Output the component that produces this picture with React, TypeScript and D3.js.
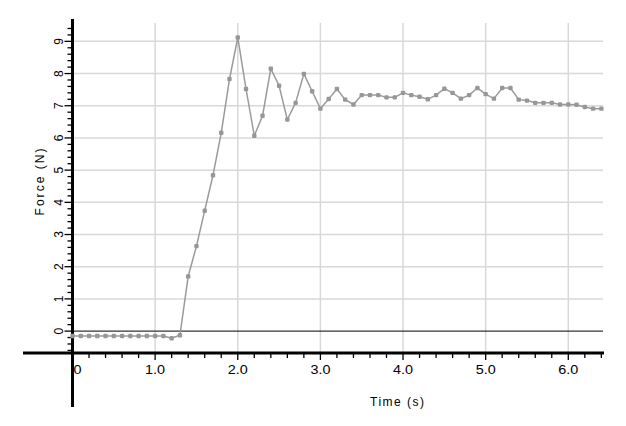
import { useEffect, useRef } from "react";
import * as d3 from "d3";

// sample times (s)
const times = [
  0.0, 0.1, 0.2, 0.3, 0.4, 0.5, 0.6, 0.7, 0.8, 0.9, 1.0, 1.1, 1.2, 1.3, 1.4,
  1.5, 1.6, 1.7, 1.8, 1.9, 2.0, 2.1, 2.2, 2.3, 2.4, 2.5, 2.6, 2.7, 2.8, 2.9,
  3.0, 3.1, 3.2, 3.3, 3.4, 3.5, 3.6, 3.7, 3.8, 3.9, 4.0, 4.1, 4.2, 4.3, 4.4,
  4.5, 4.6, 4.7, 4.8, 4.9, 5.0, 5.1, 5.2, 5.3, 5.4, 5.5, 5.6, 5.7, 5.8, 5.9,
  6.0, 6.1, 6.2, 6.3, 6.4,
];

// measured force (N)
const forces = [
  -0.15, -0.15, -0.15, -0.15, -0.15, -0.15, -0.15, -0.15, -0.15, -0.15, -0.15,
  -0.15, -0.22, -0.13, 1.7, 2.64, 3.74, 4.84, 6.16, 7.83, 9.12, 7.52, 6.07,
  6.69, 8.15, 7.62, 6.57, 7.09, 7.99, 7.45, 6.91, 7.21, 7.52, 7.19, 7.04, 7.33,
  7.33, 7.33, 7.26, 7.26, 7.4, 7.33, 7.28, 7.2, 7.33, 7.53, 7.4, 7.22, 7.33,
  7.55, 7.36, 7.22, 7.55, 7.55, 7.19, 7.16, 7.09, 7.09, 7.09, 7.04, 7.04, 7.03,
  6.96, 6.91, 6.91,
];

const xTickValues = [0, 1, 2, 3, 4, 5, 6];
const xTickLabels = ["0", "1.0", "2.0", "3.0", "4.0", "5.0", "6.0"];
const yTickValues = [0, 1, 2, 3, 4, 5, 6, 7, 8, 9];
const yTickLabels = ["0", "1", "2", "3", "4", "5", "6", "7", "8", "9"];

const xLabel = "Time (s)";
const yLabel = "Force (N)";

const WIDTH = 626;
const HEIGHT = 426;
const FONT = "'Liberation Sans', Arial, sans-serif";

export default function App() {
  const svgRef = useRef<SVGSVGElement>(null);

  useEffect(() => {
    if (!svgRef.current) return;
    const svg = d3.select(svgRef.current);
    svg.selectAll("*").remove();

    const x = d3.scaleLinear().domain([0, 6.42]).range([72.5, 603]);
    const y = d3.scaleLinear().domain([-0.68, 9.57]).range([353, 23]);
    const [x0, x1] = x.range();
    const [yb, yt] = y.range();

    svg.append("rect").attr("width", WIDTH).attr("height", HEIGHT).attr("fill", "#fff");

    // grid
    const grid = svg.append("g").attr("stroke", "#d8d8d8").attr("stroke-width", 1.5);
    xTickValues
      .filter((d) => d > 0)
      .forEach((d) => {
        grid.append("line").attr("x1", x(d)).attr("x2", x(d)).attr("y1", yt).attr("y2", yb);
      });
    yTickValues
      .filter((d) => d > 0)
      .forEach((d) => {
        grid.append("line").attr("x1", x0).attr("x2", x1).attr("y1", y(d)).attr("y2", y(d));
      });

    // zero line
    svg.append("line")
      .attr("x1", x0)
      .attr("x2", x1)
      .attr("y1", y(0))
      .attr("y2", y(0))
      .attr("stroke", "#000")
      .attr("stroke-width", 1);

    // minor / major ticks
    const ticks = svg.append("g").attr("stroke", "#000").attr("stroke-width", 1.3);
    d3.range(-3, 48).forEach((i) => {
      const v = i / 5;
      const major = i % 5 === 0;
      ticks.append("line")
        .attr("x1", major ? x0 - 8 : x0 - 5)
        .attr("x2", x0)
        .attr("y1", y(v))
        .attr("y2", y(v));
    });
    d3.range(1, 33).forEach((i) => {
      const v = i / 5;
      const major = i % 5 === 0;
      ticks.append("line")
        .attr("x1", x(v))
        .attr("x2", x(v))
        .attr("y1", yb)
        .attr("y2", major ? yb + 7 : yb + 5);
    });

    // axes
    svg.append("line")
      .attr("x1", 23)
      .attr("x2", x1 + 1)
      .attr("y1", yb)
      .attr("y2", yb)
      .attr("stroke", "#000")
      .attr("stroke-width", 3);
    svg.append("line")
      .attr("x1", x0)
      .attr("x2", x0)
      .attr("y1", yt - 4)
      .attr("y2", 407)
      .attr("stroke", "#000")
      .attr("stroke-width", 3);

    // tick labels
    xTickValues.forEach((d, i) => {
      svg.append("text")
        .attr("x", d === 0 ? x(d) + 5 : x(d))
        .attr("y", 374)
        .attr("text-anchor", "middle")
        .attr("font-family", FONT)
        .attr("font-size", 12)
        .attr("fill", "#000")
        .attr("textLength", xTickLabels[i].length > 1 ? 20 : 8)
        .attr("lengthAdjust", "spacingAndGlyphs")
        .text(xTickLabels[i]);
    });
    yTickValues.forEach((d, i) => {
      svg.append("text")
        .attr("transform", `translate(63,${y(d)}) rotate(-90)`)
        .attr("text-anchor", "middle")
        .attr("font-family", FONT)
        .attr("font-size", 12)
        .attr("fill", "#000")
        .text(yTickLabels[i]);
    });

    // axis titles
    svg.append("text")
      .attr("x", 397)
      .attr("y", 406)
      .attr("text-anchor", "middle")
      .attr("font-family", FONT)
      .attr("font-size", 12)
      .attr("fill", "#000")
      .attr("textLength", 54)
      .attr("lengthAdjust", "spacing")
      .text(xLabel);
    svg.append("text")
      .attr("transform", "translate(44,182) rotate(-90)")
      .attr("text-anchor", "middle")
      .attr("font-family", FONT)
      .attr("font-size", 12)
      .attr("fill", "#000")
      .attr("textLength", 67)
      .attr("lengthAdjust", "spacing")
      .text(yLabel);

    // series
    const pts = times.map((t, i) => [t, forces[i]] as [number, number]);
    const line = d3
      .line<[number, number]>()
      .x((d) => x(d[0]))
      .y((d) => y(d[1]));
    svg.append("path")
      .datum(pts)
      .attr("fill", "none")
      .attr("stroke", "#9a9a9a")
      .attr("stroke-width", 1.5)
      .attr("d", line);
    svg.append("g")
      .selectAll("rect")
      .data(pts)
      .join("rect")
      .attr("x", (d) => x(d[0]) - 2.2)
      .attr("y", (d) => y(d[1]) - 2.2)
      .attr("width", 4.4)
      .attr("height", 4.4)
      .attr("rx", 1.2)
      .attr("fill", "#979797");
  }, []);

  return (
    <>
      <style>{`body{margin:0}`}</style>
      <svg ref={svgRef} width={WIDTH} height={HEIGHT} style={{ display: "block" }} />
    </>
  );
}
